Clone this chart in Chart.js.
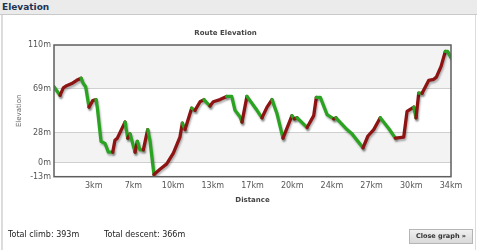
<!DOCTYPE html>
<html>
<head>
<meta charset="utf-8">
<script src="https://cdn.jsdelivr.net/npm/chart.js@4"></script>
<style>
  html, body { margin:0; padding:0; background:#fff; width:477px; height:250px; overflow:hidden; font-family:"DejaVu Sans", Verdana, sans-serif; }
  #hdr { position:absolute; left:0; top:0; width:477px; height:15px; background:#ebebeb; border-bottom:1px solid #c9c9c9; box-sizing:border-box; }
  #hdr span { position:absolute; left:2px; top:1px; font-weight:bold; font-size:9px; color:#1d3352; line-height:12px; }
  #panel { position:absolute; left:1px; top:15px; width:475px; height:235px; border-left:2px solid #dcdcdc; border-right:1px solid #dcdcdc; box-sizing:border-box; }
  #c { position:absolute; left:0; top:0; }
  .ft { position:absolute; top:230px; font-size:8px; color:#222; line-height:10px; }
  #btn { position:absolute; left:409px; top:229px; width:64px; height:15px; box-sizing:border-box; border:1px solid #b5b5b5; background:linear-gradient(#f0f0f0,#d9d9d9); font-size:6.5px; font-weight:bold; color:#333; text-align:center; line-height:13px; }
</style>
</head>
<body>
<div id="hdr"><span>Elevation</span></div>
<div id="panel"></div>
<canvas id="c" width="477" height="250"></canvas>
<div class="ft" style="left:8px">Total climb: 393m</div>
<div class="ft" style="left:104px">Total descent: 366m</div>
<div id="btn">Close graph »</div>
<script>
// ---- data ----
const distanceKm = [0,0.51,0.79,1.07,1.50,1.92,2.29,2.48,2.68,2.96,3.28,3.55,3.66,3.98,4.32,4.60,4.97,5.16,5.36,6.01,6.24,6.43,6.86,7.05,7.28,7.56,7.93,8.12,8.46,8.97,9.54,10.10,10.66,10.86,11.09,11.65,11.93,12.36,12.69,13.20,13.48,14.05,14.61,15.04,15.32,15.74,15.91,16.33,17.18,17.60,18.03,18.45,18.87,19.38,20.14,20.34,20.57,21.42,21.98,22.20,22.54,23.11,23.67,23.87,24.80,25.22,26.15,26.57,27.06,27.61,28.33,28.89,29.60,29.88,30.45,30.64,30.87,31.15,31.72,32.14,32.36,32.76,33.12,33.32,33.60];
const elevationM = [71,63,70,72,74,77,79,74,71,52,58,59,52,20,18,10,10,21,23,38,23,27,10,20,12,12,31,21,-11,-6,-1,9,24,37,31,51,49,57,59,53,57,59,62,62,49,43,38,62,49,42,52,59,46,23,44,41,42,33,44,61,61,45,41,42,31,27,14,25,31,42,32,23,24,48,52,42,65,65,77,78,80,90,104,104,98];
const totalKm = 33.6;
const xTickValues = [3.36,6.72,10.08,13.44,16.8,20.16,23.52,26.88,30.24,33.6];
const xTickLabels = ['3km','7km','10km','13km','17km','20km','24km','27km','30km','34km'];
const yTickValues = [-13,0,28,69,110];
const yTickLabels = ['-13m','0m','28m','69m','110m'];

const FONT = "'DejaVu Sans', Verdana, sans-serif";
const RED = '#8e1414';
const GREEN = '#2ba322';

const bandsPlugin = {
  id: 'bands',
  beforeDraw(chart) {
    const {ctx, chartArea:a, scales:{y}} = chart;
    ctx.save();
    ctx.fillStyle = '#f3f3f3';
    [[69,110],[0,28]].forEach(([lo,hi]) => {
      const t = y.getPixelForValue(hi), b = y.getPixelForValue(lo);
      ctx.fillRect(a.left, t, a.right - a.left, b - t);
    });
    ctx.restore();
  },
  beforeDatasetsDraw(chart) {
    const ctx = chart.ctx;
    ctx.save();
    ctx.shadowColor = 'rgba(0,0,0,0.3)';
    ctx.shadowOffsetX = 1;
    ctx.shadowOffsetY = 2;
    ctx.shadowBlur = 2;
  },
  afterDatasetsDraw(chart) {
    chart.ctx.restore();
  },
  afterDraw(chart) {
    const {ctx, chartArea:a} = chart;
    ctx.save();
    ctx.strokeStyle = '#5e5e5e';
    ctx.lineWidth = 1.5;
    ctx.strokeRect(a.left, a.top, a.right - a.left, a.bottom - a.top);
    ctx.restore();
  }
};

new Chart(document.getElementById('c'), {
  type: 'line',
  data: {
    datasets: [{
      data: distanceKm.map((d,i) => ({x:d, y:elevationM[i]})),
      borderWidth: 3.3,
      pointRadius: 0,
      tension: 0,
      borderCapStyle: 'round',
      borderJoinStyle: 'round',
      borderColor: GREEN,
      segment: {
        borderColor: c => c.p1.parsed.y > c.p0.parsed.y ? RED : GREEN
      }
    }]
  },
  options: {
    responsive: false,
    animation: false,
    layout: { padding: { left: 0, right: 26, top: 0, bottom: 43.3 } },
    plugins: {
      legend: { display: false },
      tooltip: { enabled: false },
      title: {
        display: true,
        text: 'Route Elevation',
        color: '#444',
        font: { family: FONT, size: 7, weight: 'bold' },
        padding: { top: 29.3, bottom: 7.3 }
      }
    },
    scales: {
      x: {
        type: 'linear',
        min: 0, max: totalKm,
        afterBuildTicks: s => { s.ticks = xTickValues.map(v => ({value:v})); },
        afterFit: s => { s.height = 30; },
        ticks: {
          autoSkip: false, maxRotation: 0, padding: 4,
          color: '#555', font: { family: FONT, size: 8 },
          callback: (v, i) => xTickLabels[i]
        },
        grid: { display: false, drawTicks: false },
        border: { display: false },
        title: { display: true, text: 'Distance', color: '#444', font: { family: FONT, size: 7, weight: 'bold' }, padding: { top: 0, bottom: 2.5 } }
      },
      y: {
        min: -13, max: 110,
        afterBuildTicks: s => { s.ticks = yTickValues.map(v => ({value:v})); },
        afterFit: s => { s.width = 54; },
        ticks: {
          autoSkip: false, padding: 3,
          color: '#555', font: { family: FONT, size: 8 },
          callback: (v, i) => yTickLabels[i]
        },
        grid: {
          drawTicks: false,
          color: c => (c.tick && (c.tick.value === 110 || c.tick.value === -13)) ? 'rgba(0,0,0,0)' : '#cfcfcf',
          lineWidth: 1
        },
        border: { display: false },
        title: { display: true, text: 'Elevation', color: '#666', font: { family: FONT, size: 7 }, padding: { top: 15.3, bottom: 0 } }
      }
    }
  },
  plugins: [bandsPlugin]
});
</script>
</body>
</html>
